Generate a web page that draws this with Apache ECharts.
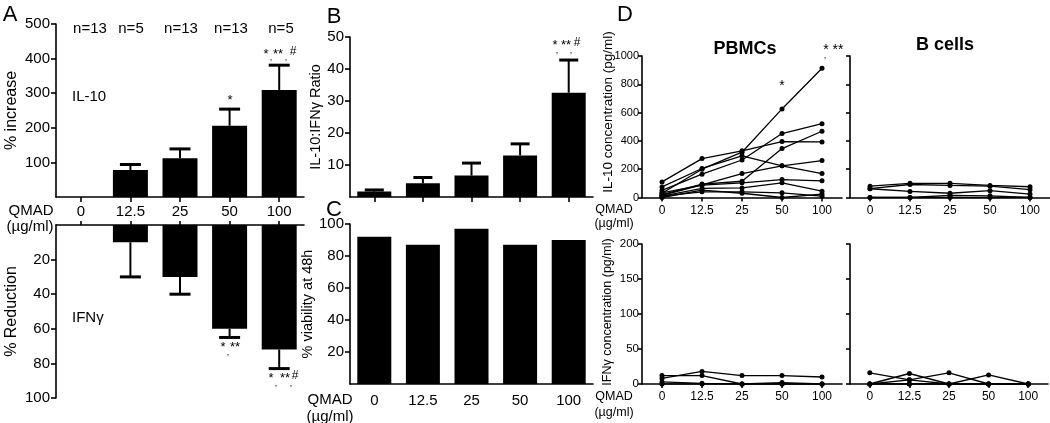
<!DOCTYPE html>
<html><head><meta charset="utf-8">
<script src="https://cdn.jsdelivr.net/npm/echarts@6/dist/echarts.min.js"></script>
<style>html,body{margin:0;padding:0;background:#fff}#c{width:1050px;height:423px}</style>
</head><body><div id="c"></div>
<script>
// ---------- data ----------
const doses = ['0', '12.5', '25', '50', '100'];
const nLabels = ['n=13', 'n=5', 'n=13', 'n=13', 'n=5'];
// Panel A
const il10Increase = [0, 78, 112, 206, 309];
const il10IncreaseErr = [0, 94, 139, 254, 381];
const ifngReduction = [0, 10, 30, 60, 72];
const ifngReductionErr = [0, 30, 40, 65, 83];
// Panel B
const ratio = [1.7, 4.3, 6.7, 13, 32.6];
const ratioErr = [2.2, 6.1, 10.6, 16.6, 42.8];
// Panel C
const viability = [92, 87, 97, 87, 90];
// Panel D (one array per donor)
const pbmcIL10_1 = [30, 200, 320, 626, 913];
const pbmcIL10_2 = [110, 275, 330, 395, 393];
const pbmcIL10_3 = [75, 205, 295, 224, 169];
const pbmcIL10_4 = [50, 165, 265, 452, 522];
const pbmcIL10_5 = [20, 95, 115, 346, 468];
const pbmcIL10_6 = [15, 90, 169, 224, 261];
const pbmcIL10_7 = [33, 87, 104, 127, 118];
const pbmcIL10_8 = [10, 64, 68, 104, 45];
const pbmcIL10_9 = [9, 40, 40, 33, 9];
const pbmcIL10_10 = [0, 52, 30, 0, 24];
const bcellIL10_1 = [80, 100, 100, 85, 76];
const bcellIL10_2 = [62, 92, 85, 80, 55];
const bcellIL10_3 = [62, 43, 30, 48, 24];
const bcellIL10_4 = [0, 0, 15, 12, 0];
const bcellIL10_5 = [0, 0, 0, 0, 0];
const pbmcIFNg_1 = [8, 18, 12, 12, 10];
const pbmcIFNg_2 = [12, 12, 0, 2, 0];
const pbmcIFNg_3 = [3, 1, 0, 0, 0];
const pbmcIFNg_4 = [0, 0, 0, 0, 0];
const bcellIFNg_1 = [16, 6, 0, 0, 0];
const bcellIFNg_2 = [0, 15, 0, 0, 0];
const bcellIFNg_3 = [0, 6, 16, 0, 0];
const bcellIFNg_4 = [0, 0, 0, 13, 0];
const bcellIFNg_5 = [0, 0, 0, 0, 0];

const pbmcIL10 = [pbmcIL10_1, pbmcIL10_2, pbmcIL10_3, pbmcIL10_4, pbmcIL10_5, pbmcIL10_6, pbmcIL10_7, pbmcIL10_8, pbmcIL10_9, pbmcIL10_10];
const bcellIL10 = [bcellIL10_1, bcellIL10_2, bcellIL10_3, bcellIL10_4, bcellIL10_5];
const pbmcIFNg = [pbmcIFNg_1, pbmcIFNg_2, pbmcIFNg_3, pbmcIFNg_4];
const bcellIFNg = [bcellIFNg_1, bcellIFNg_2, bcellIFNg_3, bcellIFNg_4, bcellIFNg_5];

// ---------- chart ----------
const FONT = 'Liberation Sans';
const chart = echarts.init(document.getElementById('c'), null, {renderer: 'canvas'});

const axLine = {show: true, lineStyle: {color: '#000', width: 1.6}};
const axTick = (len, show = true) => ({show: show, length: len, alignWithLabel: true, lineStyle: {color: '#000', width: 1.6}});
const axLab = (size, show = true, margin = 6) => ({show: show, color: '#000', fontFamily: FONT, fontSize: size, margin: margin, showMinLabel: false});
const plain = v => String(v);

function catX(grid, opts) {
  return Object.assign({
    type: 'category', gridIndex: grid, data: doses, boundaryGap: true,
    axisLine: axLine, axisTick: axTick(5), splitLine: {show: false},
    axisLabel: {show: true, color: '#000', fontFamily: FONT, fontSize: 15, margin: 6, interval: 0}
  }, opts || {});
}
function valY(grid, min, max, interval, opts) {
  return Object.assign({
    type: 'value', gridIndex: grid, min: min, max: max, interval: interval,
    axisLine: axLine, axisTick: axTick(5), splitLine: {show: false},
    axisLabel: axLab(15),
    nameLocation: 'middle', nameTextStyle: {color: '#000', fontFamily: FONT, fontSize: 16}
  }, opts || {});
}

function errRender(capW) {
  return function (params, api) {
    const i = api.value(0), v = api.value(1), e = api.value(2);
    if (e === v) return null;
    const p0 = api.coord([i, v]);
    const p1 = api.coord([i, e]);
    return {type: 'group', children: [
      {type: 'line', shape: {x1: p0[0], y1: p0[1], x2: p1[0], y2: p1[1]}, style: {stroke: '#000', lineWidth: 2}},
      {type: 'line', shape: {x1: p1[0] - capW / 2, y1: p1[1], x2: p1[0] + capW / 2, y2: p1[1]}, style: {stroke: '#000', lineWidth: 3}}
    ]};
  };
}
function errData(vals, errs) { return vals.map((v, i) => [i, v, errs[i]]); }

const series = [];
function barWithErr(ax, vals, errs, bw, cap) {
  series.push({type: 'bar', xAxisIndex: ax, yAxisIndex: ax, data: vals, barWidth: bw,
    itemStyle: {color: '#000'}, silent: true});
  if (errs) series.push({type: 'custom', xAxisIndex: ax, yAxisIndex: ax, data: errData(vals, errs),
    encode: {x: 0, y: 1}, renderItem: errRender(cap), silent: true, z: 3});
}
barWithErr(0, il10Increase, il10IncreaseErr, 35, 21);
barWithErr(1, ifngReduction, ifngReductionErr, 35, 21);
barWithErr(2, ratio, ratioErr, 34, 19);
barWithErr(3, viability, null, 34, 0);

function lines(ax, arr) {
  arr.forEach(d => series.push({type: 'line', xAxisIndex: ax, yAxisIndex: ax, data: d,
    symbol: 'circle', symbolSize: 5, showSymbol: true, itemStyle: {color: '#000'},
    lineStyle: {color: '#000', width: 1.3}, silent: true}));
}
lines(4, pbmcIL10);
lines(5, bcellIL10);
lines(6, pbmcIFNg);
lines(7, bcellIFNg);

const T = (text, x, y, size, extra, rot) => Object.assign({type: 'text', x: x, y: y, rotation: rot || 0,
  style: Object.assign({text: text, fill: '#000', font: size + 'px "' + FONT + '"', textAlign: 'center', textVerticalAlign: 'middle'}, extra || {})});

const graphics = [
  T('A', 10, 15, 22), T('B', 334, 17, 22), T('C', 334, 210, 22), T('D', 625, 15, 22),
  T('IL-10', 72, 97, 15, {textAlign: 'left'}),
  T('IFN\u03b3', 72, 318, 15, {textAlign: 'left'}),
  T('QMAD', 31, 211, 15), T('(\u00b5g/ml)', 30, 227, 15),
  T('QMAD', 330, 400, 15), T('(\u00b5g/ml)', 330, 417, 15),
  T('QMAD', 614, 210, 12.5), T('(\u00b5g/ml)', 614, 224, 12.5),
  T('QMAD', 614, 397, 12.5), T('(\u00b5g/ml)', 614, 413, 12.5),
  T('IL-10 concentration (pg/ml)', 608, 112, 13.5, null, Math.PI / 2),
  T('IFN\u03b3 concentration (pg/ml)', 608, 312, 12.5, null, Math.PI / 2),
  T('PBMCs', 745, 49, 18, {font: 'bold 18px "' + FONT + '"'}),
  T('B cells', 945, 45, 18, {font: 'bold 18px "' + FONT + '"'}),
  // significance marks
  T('*', 230, 100, 13),
  T('*', 266, 54, 13), T('**', 278, 54, 13), T('#', 293, 52, 12), T(',', 271, 58, 9), T(',', 286, 58, 9),
  T('*', 223, 347, 13), T('**', 235, 347, 13), T(',', 228, 353, 9),
  T('*', 271, 378, 13), T('**', 285, 378, 13), T('#', 295, 376, 12), T(',', 276, 384, 9), T(',', 291, 384, 9),
  T('*', 555, 45, 13), T('**', 566, 45, 13), T('#', 577, 43, 12), T(',', 557, 51, 9), T(',', 571, 51, 9),
  T('*', 782, 86, 14),
  T('*', 826, 50, 14), T('**', 838, 50, 14), T(',', 825, 56, 9)
];
nLabels.forEach((t, i) => graphics.push(T(t, [90, 131, 181, 231, 281][i], 29, 15)));

const dLab = {show: true, color: '#000', fontFamily: FONT, fontSize: 12, margin: 7, interval: 0};

const option = {
  animation: false,
  backgroundColor: '#fff',
  grid: [
    {left: 56, top: 24, width: 248, height: 173},
    {left: 56, top: 225, width: 248, height: 173},
    {left: 350, top: 37, width: 243, height: 160},
    {left: 350, top: 224, width: 243, height: 160},
    {left: 642, top: 56, width: 200, height: 141.5},
    {left: 850, top: 56, width: 200, height: 141.5},
    {left: 642, top: 244, width: 200, height: 140},
    {left: 850, top: 244, width: 198, height: 140}
  ],
  xAxis: [
    catX(0, {axisLabel: {show: true, color: '#000', fontFamily: FONT, fontSize: 15, margin: 7, interval: 0}}),
    catX(1, {position: 'top', axisLabel: {show: false}, axisTick: axTick(4)}),
    catX(2, {axisLabel: {show: false}}),
    catX(3, {axisTick: {show: false}, axisLabel: {show: true, color: '#000', fontFamily: FONT, fontSize: 15, margin: 9, interval: 0}}),
    catX(4, {axisTick: axTick(4), axisLabel: dLab}),
    catX(5, {axisTick: axTick(4), axisLabel: dLab}),
    catX(6, {axisTick: axTick(4), axisLabel: dLab}),
    catX(7, {axisTick: axTick(4), axisLabel: dLab})
  ],
  yAxis: [
    valY(0, 0, 500, 100, {name: '% increase', nameGap: 36}),
    valY(1, 0, 100, 20, {inverse: true, name: '% Reduction', nameGap: 36}),
    valY(2, 0, 50, 10, {name: 'IL-10:IFN\u03b3 Ratio', nameGap: 26, nameTextStyle: {color: '#000', fontFamily: FONT, fontSize: 14.5}}),
    valY(3, 0, 100, 20, {name: '% viability at 48h', nameGap: 26, nameTextStyle: {color: '#000', fontFamily: FONT, fontSize: 14.5}}),
    valY(4, 0, 1000, 200, {axisLabel: Object.assign(axLab(11), {showMinLabel: true, margin: 3, formatter: plain}), axisTick: axTick(4)}),
    valY(5, 0, 1000, 200, {axisLabel: {show: false}, axisTick: axTick(4)}),
    valY(6, 0, 200, 50, {axisLabel: Object.assign(axLab(11.5), {showMinLabel: true, margin: 3, formatter: plain}), axisTick: axTick(4)}),
    valY(7, 0, 200, 50, {axisLabel: {show: false}, axisTick: axTick(4)})
  ],
  series: series,
  graphic: graphics
};
chart.setOption(option);
</script>
</body></html>
